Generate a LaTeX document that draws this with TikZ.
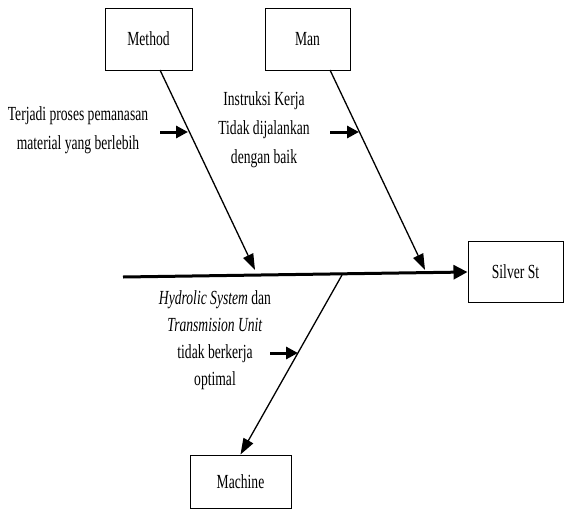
\documentclass[tikz,border=0pt]{standalone}
\usepackage{fontspec}
\setmainfont{Liberation Serif}[FakeStretch=0.68]
\usetikzlibrary{arrows.meta}
\begin{document}
\begin{tikzpicture}[x=1pt,y=-1pt,
  box/.style={draw,line width=1pt,inner sep=0pt,font=\fontsize{20}{22}\selectfont},
  bone/.style={line width=1.3pt,-{Triangle[length=16pt,width=11pt]}},
  spine/.style={line width=3pt,-{Triangle[length=14pt,width=14pt]}},
  cause/.style={line width=3pt,-{Triangle[length=12pt,width=12pt]}},
  lbl/.style={align=center,font=\fontsize{20}{27}\selectfont,inner sep=0pt},
  lblt/.style={align=center,font=\fontsize{20}{29}\selectfont,inner sep=0pt}]
\useasboundingbox (0,0) rectangle (565,517);
\node[box,minimum width=87pt,minimum height=62pt] (method) at (148.5,39) {Method};
\node[box,minimum width=85pt,minimum height=62pt] (man) at (307.5,39) {Man};
\node[box,minimum width=95pt,minimum height=61pt] (silver) at (515.5,272) {Silver St};
\node[box,minimum width=101pt,minimum height=53pt] (machine) at (240.5,481.5) {Machine};
\coordinate (m0) at (160,70);
\coordinate (m1) at (255,270);
\coordinate (n0) at (330,70);
\coordinate (n1) at (425,270);
\coordinate (tail) at (123,277);
\coordinate (k0) at (342,275);
\draw[spine] (tail) -- (silver.west);
\draw[bone] (m0) -- (m1);
\draw[bone] (n0) -- (n1);
\draw[bone] (k0) -- (machine.north);
\node[lblt] (t1) at (78,130) {Terjadi proses pemanasan\\material yang berlebih};
\node[lblt] (t2) at (264,130) {Instruksi Kerja\\Tidak dijalankan\\dengan baik};
\node[lbl] (t3) at (215,340) {\textit{Hydrolic System} dan\\\textit{Transmision Unit}\\tidak berkerja\\optimal};
\coordinate (a1) at (160,132); \coordinate (b1) at (188,132);
\coordinate (a2) at (330,132); \coordinate (b2) at (359,132);
\coordinate (a3) at (270,353); \coordinate (b3) at (298,353);
\draw[cause] (a1) -- (b1);
\draw[cause] (a2) -- (b2);
\draw[cause] (a3) -- (b3);
\end{tikzpicture}
\end{document}
